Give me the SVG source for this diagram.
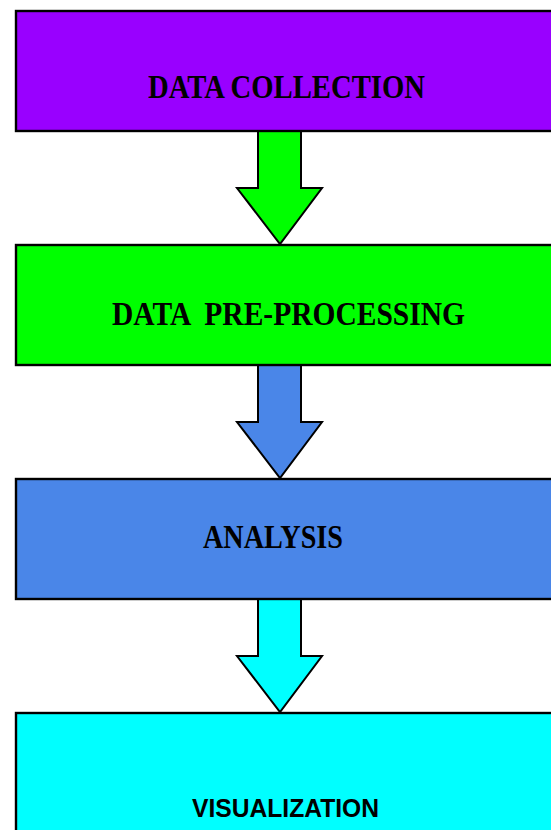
<svg xmlns="http://www.w3.org/2000/svg" width="551" height="830" viewBox="0 0 551 830">
<style>
.box{stroke:#000;stroke-width:2.4}
.arr{stroke:#000;stroke-width:2;stroke-linejoin:miter}
.ser{font-family:"Liberation Serif","DejaVu Serif",serif;font-weight:bold;font-size:34px;fill:#000}
.sans{font-family:"Liberation Sans","DejaVu Sans",sans-serif;font-weight:bold;font-size:26px;fill:#000}
</style>
<rect width="551" height="830" fill="#fff"/>
<g id="connectors">
<polygon class="arr" fill="#00FF00" points="258,131 301,131 301,188 322,188 280,244 237,188 258,188"/>
<polygon class="arr" fill="#4A86E8" points="258,365 301,365 301,422 322,422 280,478 237,422 258,422"/>
<polygon class="arr" fill="#00FFFF" points="258,599 301,599 301,656 322,656 280,712 237,656 258,656"/>
</g>
<g id="data-collection">
<rect class="box" x="16" y="11" width="600" height="120" fill="#9900FF"/>
<text class="ser" x="148" y="98" textLength="277" lengthAdjust="spacingAndGlyphs">DATA COLLECTION</text>
</g>
<g id="data-preprocessing">
<rect class="box" x="16" y="245" width="600" height="120" fill="#00FF00"/>
<text class="ser" x="112" y="325" textLength="353" lengthAdjust="spacingAndGlyphs" xml:space="preserve">DATA  PRE-PROCESSING</text>
</g>
<g id="analysis">
<rect class="box" x="16" y="479" width="600" height="120" fill="#4A86E8"/>
<text class="ser" x="203" y="548" textLength="140" lengthAdjust="spacingAndGlyphs">ANALYSIS</text>
</g>
<g id="visualization">
<rect class="box" x="16" y="713" width="600" height="140" fill="#00FFFF"/>
<text class="sans" x="192" y="817" textLength="187" lengthAdjust="spacingAndGlyphs">VISUALIZATION</text>
</g>
</svg>
